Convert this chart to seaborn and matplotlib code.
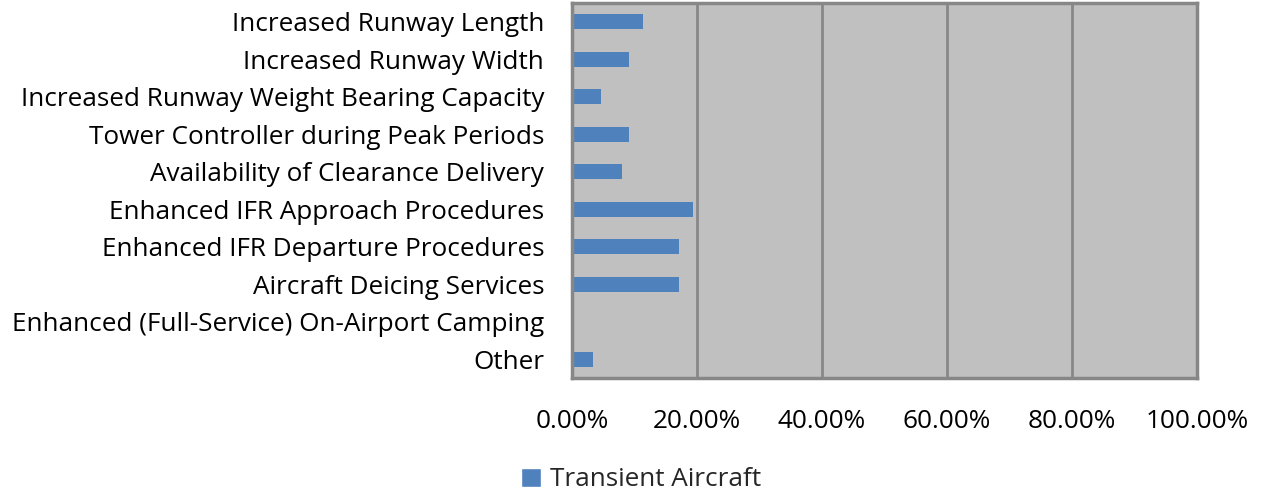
import matplotlib
matplotlib.use("Agg")
import matplotlib.pyplot as plt
import seaborn as sns
import pandas as pd
from matplotlib.ticker import FuncFormatter
from matplotlib.patches import Patch

categories = [
    "Increased Runway Length",
    "Increased Runway Width",
    "Increased Runway Weight Bearing Capacity",
    "Tower Controller during Peak Periods",
    "Availability of Clearance Delivery",
    "Enhanced IFR Approach Procedures",
    "Enhanced IFR Departure Procedures",
    "Aircraft Deicing Services",
    "Enhanced (Full-Service) On-Airport Camping",
    "Other",
]
transient = [11.43, 9.14, 4.57, 9.14, 8.00, 19.43, 17.14, 17.14, 0.0, 3.43]
series_name = "Transient Aircraft"

df = pd.DataFrame({"category": categories, "value": transient})

sns.set_theme(style="white")
plt.rcParams["font.family"] = ["Open Sans", "DejaVu Sans"]

blue = "#4f81bd"
grid_gray = "#878787"
fs = 18.8

fig = plt.figure(figsize=(12.63, 4.96), dpi=100)
ax = fig.add_axes([572 / 1263, 1 - 378 / 496, (1197 - 572) / 1263, (378 - 3) / 496])
ax.set_facecolor("#c0c0c0")

sns.barplot(data=df, x="value", y="category", orient="h", color=blue,
            width=0.4, ax=ax, saturation=1, edgecolor="none", linewidth=0)

ax.set_xlim(0, 100)
ax.set_xticks([0, 20, 40, 60, 80, 100])
ax.xaxis.set_major_formatter(FuncFormatter(lambda v, p: f"{v:.2f}%"))
ax.grid(axis="x", color=grid_gray, linewidth=2)
ax.set_axisbelow(True)
for s in ax.spines.values():
    s.set_color(grid_gray)
    s.set_linewidth(2.5)
ax.set_xlabel("")
ax.set_ylabel("")
ax.tick_params(axis="x", length=0, pad=22, labelsize=fs, colors="black")
ax.tick_params(axis="y", length=0, pad=20, labelsize=fs, colors="black")

fig.legend(handles=[Patch(facecolor=blue, label=series_name)],
           loc="center", bbox_to_anchor=(641 / 1263, 1 - 480 / 496),
           frameon=False, fontsize=fs, handlelength=0.75, handleheight=0.75,
           handletextpad=0.35)

fig.savefig("out.png", dpi=100)
